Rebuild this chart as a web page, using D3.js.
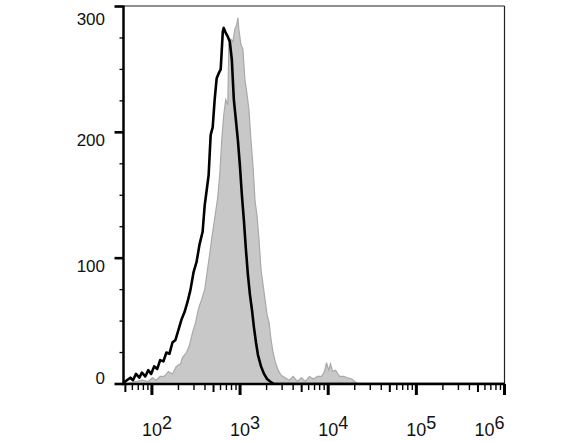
<!DOCTYPE html>
<html>
<head>
<meta charset="utf-8">
<script src="https://cdn.jsdelivr.net/npm/d3@7/dist/d3.min.js"></script>
<style>
  html, body { margin: 0; padding: 0; background: #fff; }
  svg { display: block; }
</style>
</head>
<body>
<svg id="chart" width="588" height="441"></svg>
<script>
// ---- data ----
const unstainedIntensity = [48, 52, 57, 61, 66, 72, 77, 84, 91, 98, 106, 115, 124, 135, 146, 158, 171, 185, 200, 216, 234, 253, 274, 297, 321, 347, 376, 397, 418, 440, 464, 489, 515, 543, 573, 603, 637, 653, 688, 726, 765, 806, 850, 896, 944, 995, 1049, 1105, 1165, 1227, 1294, 1364, 1437, 1516, 1597, 1729, 1871, 2025, 2192, 2432, 1000000];
const unstainedCount = [1, 3, 5, 3, 8, 5, 9, 6, 11, 8, 14, 12, 19, 18, 25, 24, 33, 35, 43, 51, 57, 65, 75, 89, 97, 111, 121, 142, 154, 166, 198, 204, 226, 243, 247, 250, 280, 283, 279, 276, 272, 258, 226, 210, 194, 174, 150, 130, 107, 87, 71, 59, 45, 33, 23, 14, 8, 4, 2, 0, 0];

const stainedIntensity = [48, 57, 66, 77, 91, 101, 112, 124, 138, 154, 171, 189, 211, 222, 247, 267, 289, 313, 338, 366, 397, 429, 452, 477, 502, 529, 557, 588, 620, 653, 688, 726, 745, 785, 828, 873, 920, 944, 969, 1021, 1077, 1135, 1196, 1261, 1329, 1400, 1477, 1556, 1640, 1729, 1822, 1920, 2025, 2133, 2248, 2370, 2498, 2704, 2925, 3250, 3615, 4010, 4456, 4950, 5510, 6120, 6800, 7550, 8390, 9080, 9577, 10090, 10640, 11220, 12140, 13490, 14970, 16640, 18490, 19990, 21630, 1000000];
const stainedCount = [0, 1, 2, 3, 2, 5, 3, 6, 6, 10, 8, 14, 16, 21, 25, 31, 41, 49, 60, 67, 75, 92, 103, 116, 126, 137, 148, 166, 194, 214, 226, 222, 270, 274, 272, 282, 286, 291, 282, 270, 266, 242, 231, 218, 194, 174, 146, 134, 115, 91, 79, 67, 55, 49, 35, 25, 18, 11, 7, 5, 3, 6, 2, 5, 2, 6, 4, 6, 6, 10, 17, 11, 16, 10, 11, 6, 6, 5, 4, 2, 0, 0];

const xDecades = [1e2, 1e3, 1e4, 1e5, 1e6];
const xExponents = ["2", "3", "4", "5", "6"];
const yTickValues = [0, 100, 200, 300];
const yMinorValues = [25, 50, 75, 125, 150, 175, 225, 250, 275];

// ---- layout ----
const plotLeft = 123.5, plotRight = 504.5, plotTop = 6, plotBottom = 384;
const svg = d3.select("#chart");
const font = "'Liberation Sans', Arial, Helvetica, sans-serif";

const x = d3.scaleLog().domain([47.6, 1e6]).range([plotLeft, plotRight]);
const y = d3.scaleLinear().domain([0, 300]).range([plotBottom, plotTop + 0.5]);

svg.append("defs").append("clipPath").attr("id", "plotclip")
  .append("rect").attr("x", plotLeft).attr("y", plotTop).attr("width", plotRight - plotLeft).attr("height", plotBottom - plotTop);

const g = svg.append("g").attr("clip-path", "url(#plotclip)");

const stained = stainedIntensity.map((v, i) => [v, stainedCount[i]]);
const unstained = unstainedIntensity.map((v, i) => [v, unstainedCount[i]]);

const area = d3.area().x(d => x(d[0])).y0(y(0)).y1(d => y(d[1]));
const line = d3.line().x(d => x(d[0])).y(d => y(d[1]));

g.append("path").datum(stained)
  .attr("d", area).attr("fill", "#c8c8c8").attr("stroke", "none");
g.append("path").datum(stained)
  .attr("d", line).attr("fill", "none").attr("stroke", "#a9a9a9").attr("stroke-width", 1.2);
g.append("path").datum(unstained)
  .attr("d", line).attr("fill", "none").attr("stroke", "#000").attr("stroke-width", 2.6)
  .attr("stroke-linejoin", "round");

// frame (top / right thin)
svg.append("line").attr("x1", plotLeft).attr("x2", plotRight).attr("y1", plotTop).attr("y2", plotTop)
  .attr("stroke", "#222").attr("stroke-width", 1.2);
svg.append("line").attr("x1", plotRight).attr("x2", plotRight).attr("y1", plotTop).attr("y2", plotBottom)
  .attr("stroke", "#222").attr("stroke-width", 1.2);

// ---- y axis ----
const yAxis = svg.append("g");
yAxis.append("line").attr("x1", plotLeft).attr("x2", plotLeft).attr("y1", plotTop - 0.5).attr("y2", plotBottom + 1)
  .attr("stroke", "#000").attr("stroke-width", 2.5);
yAxis.selectAll(".ymaj").data(yTickValues).enter().append("line")
  .attr("x1", plotLeft - 9).attr("x2", plotLeft).attr("y1", d => y(d)).attr("y2", d => y(d))
  .attr("stroke", "#000").attr("stroke-width", 2.6);
yAxis.selectAll(".ymin").data(yMinorValues).enter().append("line")
  .attr("x1", plotLeft - 4).attr("x2", plotLeft).attr("y1", d => y(d)).attr("y2", d => y(d))
  .attr("stroke", "#000").attr("stroke-width", 1.3);
yAxis.selectAll(".ylab").data(yTickValues).enter().append("text")
  .attr("x", 105)
  .attr("y", d => Math.max(19, Math.min(378, y(d) + 8)))
  .attr("dy", "0.36em")
  .attr("text-anchor", "end")
  .attr("font-family", font).attr("font-size", 17).attr("fill", "#111")
  .text(d => d);

// ---- x axis ----
const xAxis = svg.append("g");
xAxis.append("line").attr("x1", plotLeft - 1.5).attr("x2", plotRight).attr("y1", plotBottom).attr("y2", plotBottom)
  .attr("stroke", "#000").attr("stroke-width", 2.6);

const minor = [];
[1e1, 1e2, 1e3, 1e4, 1e5].forEach(dec => {
  for (let m = 2; m <= 9; m++) {
    const v = dec * m;
    if (v >= x.domain()[0] && v <= x.domain()[1]) minor.push({ v, m });
  }
});
xAxis.selectAll(".xmin").data(minor).enter().append("line")
  .attr("x1", d => x(d.v)).attr("x2", d => x(d.v))
  .attr("y1", plotBottom).attr("y2", d => plotBottom + (d.m === 5 ? 8 : 6))
  .attr("stroke", "#000").attr("stroke-width", d => d.m === 5 ? 2 : 1.4);
xAxis.selectAll(".xmaj").data(xDecades).enter().append("line")
  .attr("x1", d => x(d)).attr("x2", d => x(d))
  .attr("y1", plotBottom).attr("y2", plotBottom + 11)
  .attr("stroke", "#000").attr("stroke-width", 3);

const labels = xAxis.selectAll(".xlab").data(xDecades).enter().append("text")
  .attr("y", 436)
  .attr("font-family", font).attr("font-size", 18).attr("fill", "#111");
labels.append("tspan").text("10");
labels.append("tspan").attr("dy", -7).text((d, i) => xExponents[i]);
labels.each(function (d) {
  const t = d3.select(this);
  const base = t.select("tspan").node().getComputedTextLength();
  const total = this.getComputedTextLength();
  let x0 = x(d) - base / 2;
  if (x0 + total > plotRight) x0 = plotRight - total;
  t.attr("x", x0);
});
</script>
</body>
</html>
